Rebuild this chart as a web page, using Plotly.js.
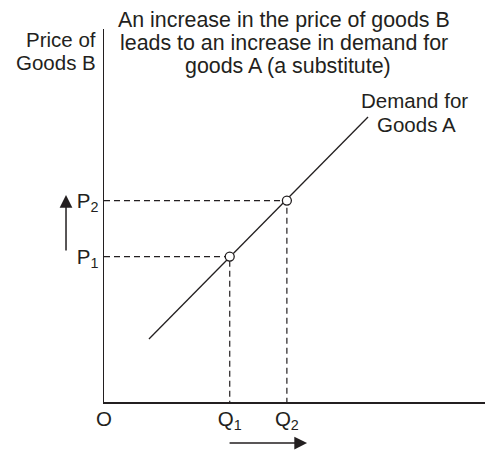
<!DOCTYPE html>
<html>
<head>
<meta charset="utf-8">
<script src="https://cdn.plot.ly/plotly-3.0.1.min.js"></script>
<style>html,body{margin:0;padding:0;background:#fff;}#chart{width:485px;height:450px;}</style>
</head>
<body>
<div id="chart"></div>
<script>
// Quantities of goods A and prices of goods B (chart units)
var quantityValues = [3.3, 4.8];
var quantityLabels = ['Q<sub>1</sub>', 'Q<sub>2</sub>'];
var priceValues = [3.9, 5.4];
var priceLabels = ['P<sub>1</sub>', 'P<sub>2</sub>'];
var demandX = [1.18, 6.93];
var demandY = [1.69, 7.64];
var originLabel = 'O';
var titleLines = ['An increase in the price of goods B', 'leads to an increase in demand for', 'goods A (a substitute)'];
var yAxisLines = ['Price of', 'Goods B'];
var curveLines = ['Demand for', 'Goods A'];

var ink = '#231f20';
var fam = '"Liberation Sans", Arial, sans-serif';
var font = {family: fam, size: 20.5, color: ink};
var titleFont = {family: fam, size: 21.4, color: ink};

var traces = [];
for (var i = 0; i < quantityValues.length; i++) {
  traces.push({
    x: [0, quantityValues[i], quantityValues[i]],
    y: [priceValues[i], priceValues[i], 0],
    mode: 'lines',
    line: {color: ink, width: 1.2, dash: '6px,4px'},
    hoverinfo: 'skip', showlegend: false
  });
}
traces.push({
  x: demandX, y: demandY, mode: 'lines',
  line: {color: ink, width: 1.3},
  hoverinfo: 'skip', showlegend: false
});
traces.push({
  x: quantityValues, y: priceValues, mode: 'markers',
  marker: {size: 9, color: '#fff', line: {color: ink, width: 1.3}},
  hoverinfo: 'skip', showlegend: false, cliponaxis: false
});

function textAnn(text, x, y, xanchor, f) {
  return {xref: 'paper', yref: 'paper', x: x, y: y, xanchor: xanchor, yanchor: 'middle',
          text: text, showarrow: false, font: f || font};
}

var annotations = [
  textAnn(titleLines[0], 0.4724, 1.025, 'center', titleFont),
  textAnn(titleLines[1], 0.4724, 0.962, 'center', titleFont),
  textAnn(titleLines[2], 0.483, 0.900, 'center', titleFont),
  textAnn(yAxisLines[0], -0.0157, 0.971, 'right'),
  textAnn(yAxisLines[1], -0.0157, 0.909, 'right'),
  textAnn(curveLines[0], 0.816, 0.807, 'center'),
  textAnn(curveLines[1], 0.819, 0.743, 'center'),
  {xref: 'paper', yref: 'paper', x: -0.0997, y: 0.555, ax: 0, ay: 57,
   text: '', showarrow: true, arrowhead: 2, arrowsize: 1.7, arrowwidth: 1.5, arrowcolor: ink},
  {xref: 'paper', yref: 'paper', x: 0.533, y: -0.11, ax: -79, ay: 0,
   text: '', showarrow: true, arrowhead: 2, arrowsize: 1.7, arrowwidth: 1.5, arrowcolor: ink}
];

var layout = {
  width: 485, height: 450,
  margin: {l: 104, r: 0, t: 29, b: 48},
  paper_bgcolor: '#fff', plot_bgcolor: '#fff',
  font: font,
  showlegend: false,
  xaxis: {
    range: [0, 10], showline: true, linecolor: ink, linewidth: 1.5,
    showgrid: false, zeroline: false, ticks: '', ticklabelstandoff: -2,
    tickvals: [0].concat(quantityValues),
    ticktext: [originLabel].concat(quantityLabels),
    tickfont: font, fixedrange: true
  },
  yaxis: {
    range: [0, 10], showline: true, linecolor: ink, linewidth: 1.5,
    showgrid: false, zeroline: false, ticks: '',
    tickvals: priceValues, ticktext: priceLabels,
    tickfont: font, fixedrange: true
  },
  annotations: annotations
};

Plotly.newPlot('chart', traces, layout, {displayModeBar: false, staticPlot: true});
</script>
</body>
</html>
